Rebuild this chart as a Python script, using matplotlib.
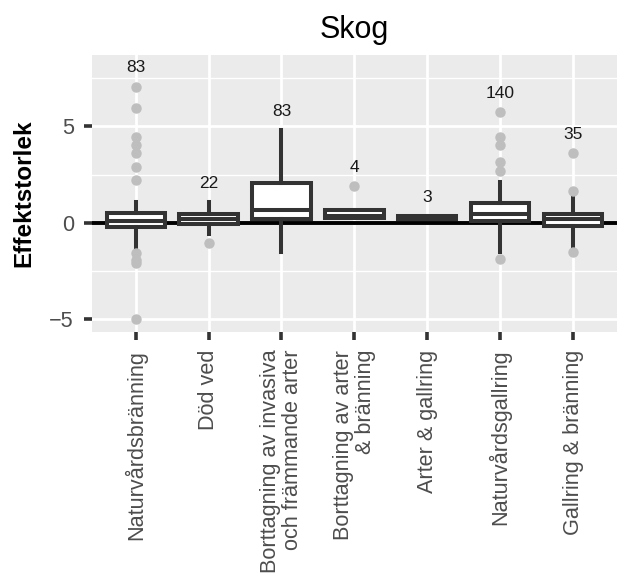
import matplotlib
matplotlib.use("Agg")
import matplotlib.pyplot as plt
import numpy as np

categories = ["Naturvårdsbränning", "Död ved",
              "Borttagning av invasiva\noch främmande arter",
              "Borttagning av arter\n& bränning", "Arter & gallring",
              "Naturvårdsgallring", "Gallring & bränning"]
counts = [83, 22, 83, 4, 3, 140, 35]
q1 = [-0.2, -0.05, 0.18, 0.23, 0.17, 0.08, -0.18]
med = [0.1, 0.2, 0.67, 0.34, 0.25, 0.45, 0.2]
q3 = [0.52, 0.48, 2.04, 0.66, 0.34, 1.0, 0.48]
whislo = [-1.35, -0.57, -1.5, 0.23, 0.17, -1.5, -1.24]
whishi = [1.09, 1.09, 4.8, 0.66, 0.34, 2.12, 1.35]
fliers = [
    [7.06, 5.96, 4.46, 4.04, 3.63, 2.9, 2.23, -1.55, -1.92, -2.07, -4.97],
    [-1.04],
    [],
    [1.92],
    [],
    [5.75, 4.46, 4.04, 3.16, 2.69, -1.87],
    [3.63, 1.66, -1.5],
]
yticks = [-5, 0, 5]

plt.rcParams['font.family'] = ['Liberation Sans', 'DejaVu Sans']
fig = plt.figure(figsize=(6.3, 5.78), dpi=100)
ax = fig.add_axes([0.146, 0.426, 0.833, 0.479])
ax.set_facecolor('#EBEBEB')
for s in ax.spines.values():
    s.set_visible(False)

pos = np.arange(1, len(categories) + 1)
stats = []
for i in range(len(categories)):
    stats.append(dict(q1=q1[i], med=med[i], q3=q3[i], whislo=whislo[i],
                      whishi=whishi[i], fliers=fliers[i]))

ax.axhline(0, color='black', lw=2.8, zorder=2)
dark = '#333333'
lw = 2.9
ax.bxp(stats, positions=pos, widths=0.8, patch_artist=True, showcaps=False,
       boxprops=dict(facecolor='white', edgecolor=dark, linewidth=lw),
       medianprops=dict(color=dark, linewidth=lw),
       whiskerprops=dict(color=dark, linewidth=lw),
       flierprops=dict(marker='o', markerfacecolor='#BEBEBE',
                       markeredgecolor='#BEBEBE', markersize=6.5),
       zorder=3)

for i in range(len(categories)):
    top = max([whishi[i]] + fliers[i])
    ax.text(pos[i], top + 0.97, str(counts[i]), ha='center', va='center',
            fontsize=12.5, color='#1a1a1a', zorder=4)

ax.set_xlim(0.4, len(categories) + 0.6)
ax.set_ylim(-5.65, 8.7)
ax.set_yticks(yticks)
ax.set_yticklabels([str(v).replace('-', '\u2212') for v in yticks])
ax.set_xticks(pos)
ax.set_xticklabels(categories, rotation=90, ha='center', va='top',
                   multialignment='right', linespacing=1.05)
ax.yaxis.set_minor_locator(matplotlib.ticker.FixedLocator([-2.5, 2.5, 7.5]))
ax.grid(True, which='major', color='white', lw=2.0, zorder=0)
ax.grid(True, which='minor', axis='y', color='white', lw=1.0, zorder=0)
ax.set_axisbelow(True)
ax.tick_params(axis='both', which='major', length=6.0, width=2.6,
               color='#333333', labelcolor='#4D4D4D', labelsize=15.6, pad=7)
ax.tick_params(axis='y', which='minor', length=0)
ax.set_ylabel('Effektstorlek', fontsize=17.5, fontweight='bold', labelpad=10)
ax.set_title('Skog', fontsize=22, pad=12)

fig.savefig('out.png', dpi=100)
